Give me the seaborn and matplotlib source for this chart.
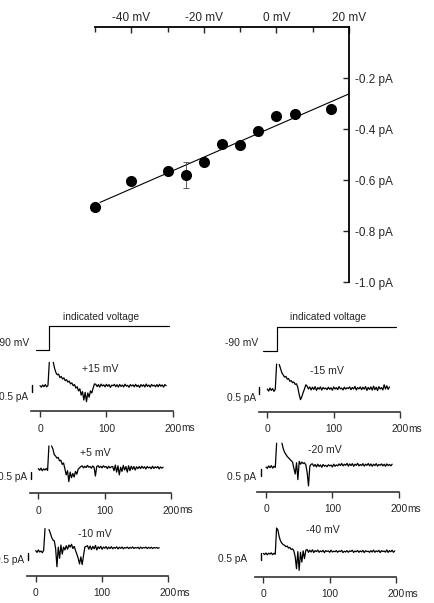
import numpy as np
import pandas as pd
import matplotlib
matplotlib.use("Agg")
import matplotlib.pyplot as plt
from matplotlib.lines import Line2D
import seaborn as sns

# ---------------- data: I-V relation ----------------
voltage_mv = [-50, -40, -30, -25, -20, -15, -10, -5, 0, 5, 15]
current_pa = [-0.705, -0.605, -0.564, -0.579, -0.530, -0.459, -0.463, -0.408, -0.350, -0.340, -0.320]
current_err_pa = [0, 0, 0, 0.05, 0, 0, 0, 0, 0, 0, 0]
fit_voltage_mv = [-48.6, 20.0]
fit_current_pa = [-0.687, -0.262]
x_major_mv = [-40, -20, 0, 20]
x_minor_mv = [-50, -30, -10, 10]
y_ticks_pa = [-0.2, -0.4, -0.6, -0.8, -1.0]

# ---------------- data: stimulus and current traces ----------------
step_time_ms = [-6.3, 13.9, 13.9, 194.0]
step_level = [0, 0, 1, 1]
holding_label = "-90 mV"
step_label = "indicated voltage"
time_ticks_ms = [0, 100, 200]
sample_ms = 2
scale_bar_label = "0.5 pA"
nan = np.nan

trace_p15 = [0.02, -0.08, 0.07, -0.05, 0.10, -0.06, 0.04,
             1.69, nan, nan, 1.69,
             1.25, 0.95, 0.80, 0.85, 0.60, 0.68, 0.50, 0.58, 0.38, 0.45, 0.28, 0.35, 0.15, 0.22, 0.02,
             0.10, -0.15, -0.05, -0.35, -0.20, -0.65, -0.40, -1.00, -0.45, -1.12, -0.50, -0.80, -0.35,
             -0.50, -0.15, 0.15,
             0.12, -0.04, 0.10, -0.08, 0.14, 0.00, 0.08, -0.06, 0.12, -0.02,
             0.10, -0.10, 0.06, 0.02, 0.12, -0.05, 0.09, -0.08, 0.11, -0.03,
             0.07, -0.07, 0.13, -0.01, 0.05, -0.09, 0.10, 0.00, 0.08, -0.06,
             0.12, -0.04, 0.06, -0.10, 0.10, -0.02, 0.09, -0.07, 0.14, -0.03,
             0.07, -0.08, 0.11, 0.00, 0.06, -0.06, 0.10, -0.05, 0.12, -0.02,
             0.08, -0.08, 0.10, 0.02]

trace_p5 = [0.05, -0.07, 0.08, -0.10, 0.03, -0.05, 0.06, -0.08,
            1.67, nan, 1.67,
            1.45, 1.05, 0.95, 0.80, 0.85, 0.60, 0.65, 0.35, 0.45, 0.05, -0.40, -0.10, -0.88, -0.20,
            -0.60, -0.30, -0.55, -0.15, -0.35, 0.00, 0.10, 0.19,
            0.25, 0.10, 0.22, 0.12, 0.28, 0.15, 0.20, 0.08, 0.24, 0.14, -0.48, 0.20, 0.26, 0.12,
            0.22, 0.10, 0.25, 0.15, 0.20, 0.05, 0.22, 0.10, 0.18,
            0.20, -0.10, 0.30, -0.20, 0.25, -0.40, 0.15, -0.15, 0.28, -0.05, 0.20, -0.20, 0.25,
            -0.10, 0.22, 0.00, 0.20, -0.05, 0.18, 0.05,
            0.20, 0.05, 0.22, 0.08, 0.18, 0.02, 0.20, 0.10, 0.16, 0.04, 0.22, 0.06, 0.18, 0.10,
            0.20, 0.03, 0.17, 0.08, 0.15]

trace_m10 = [0.05, -0.08, 0.10, -0.05, 0.02, -0.10, 0.06,
             1.62, nan, nan, 1.55,
             1.30, 1.00, 0.80, 0.75, 0.20, -1.10, 0.30, -0.50, 0.45, -0.20, 0.30, 0.10, 0.40, 0.15,
             0.45, 0.30, 0.50, 0.20, 0.35, 0.05, -0.20, -0.50, -0.90, -0.40, -0.95, -0.30, 0.30, 0.35,
             0.40, 0.15, 0.38, 0.12, 0.35, 0.18, 0.42, 0.10, 0.32, 0.20,
             0.36, 0.14, 0.30, 0.22, 0.34, 0.16, 0.30, 0.20, 0.33, 0.18,
             0.28, 0.22, 0.32, 0.17, 0.29, 0.21, 0.31, 0.18, 0.27, 0.23,
             0.30, 0.19, 0.28, 0.22, 0.31, 0.20, 0.27, 0.23, 0.29, 0.18,
             0.30, 0.21, 0.27, 0.24, 0.30, 0.19, 0.28, 0.22, 0.29, 0.20,
             0.27, 0.23, 0.28, 0.21, 0.26]

trace_m15 = [0.05, -0.10, 0.12, -0.05, 0.08, -0.12, 0.03,
             1.83, nan, 1.80,
             1.50, 1.20, 1.05, 0.90, 0.95, 0.75, 0.80, 0.60, 0.65, 0.50, 0.55, 0.38, 0.42, 0.15,
             -0.35, -0.71, -0.50, -0.20, 0.05, 0.35,
             0.25, 0.05, 0.20, -0.02, 0.18, 0.02, 0.22, -0.05, 0.15, 0.04,
             0.20, -0.03, 0.16, 0.06, 0.12, 0.00, 0.18, 0.03, 0.14, -0.04,
             0.20, 0.05, 0.15, 0.00, 0.22, 0.06, 0.12, -0.02, 0.18, 0.04,
             0.14, 0.08, 0.20, 0.00, 0.16, 0.05, 0.24, -0.02, 0.15, 0.06,
             0.20, 0.00, 0.18, 0.04, 0.22, -0.05, 0.16, 0.02, 0.20, -0.03,
             0.25, 0.00, 0.18, -0.06, 0.22, 0.05, 0.15, -0.02, 0.35, 0.05,
             0.28, 0.02, 0.20]

trace_m20 = [0.00, -0.10, 0.08, -0.05, 0.10, -0.08, 0.05, -0.03,
             1.70, nan, nan, nan, 1.70,
             1.30, 1.05, 0.90, 0.75, 0.65, 0.55, 0.45, 0.35, -0.10, -0.50, 0.30, -0.90, 0.40, 0.20,
             0.35, 0.25, 0.30, 0.15, -0.40, -1.35, 0.05, 0.20,
             0.22, 0.05, 0.18, 0.00, 0.20, 0.04, 0.15, -0.02, 0.18, 0.06,
             0.12, 0.02, 0.16, 0.08, 0.14, 0.00, 0.20, 0.05, 0.15, 0.08,
             0.22, 0.10, 0.25, 0.08, 0.20, 0.12, 0.26, 0.06, 0.22, 0.10,
             0.24, 0.05, 0.20, 0.12, 0.26, 0.08, 0.18, 0.10, 0.24, 0.06,
             0.20, 0.12, 0.25, 0.08, 0.22, 0.05, 0.20, 0.10, 0.24, 0.06,
             0.18, 0.12, 0.22, 0.08, 0.20, 0.05, 0.22, 0.10, 0.18, 0.08,
             0.20]

trace_m40 = [0.02, -0.06, 0.05, -0.08, 0.04, -0.03, 0.06, -0.07, 0.03, -0.04,
             1.83,
             1.70, 1.20, 0.90, 0.75, 0.65, 0.60, 0.50, 0.55, 0.40, 0.45, 0.30, 0.35, 0.20, -0.20,
             -1.07, 0.15, -1.19, 0.10, -0.60, 0.20, -0.35, 0.24,
             0.30, 0.10, 0.25, 0.12, 0.28, 0.08, 0.22, 0.15, 0.26, 0.10,
             0.20, 0.14, 0.24, 0.08, 0.22, 0.16, 0.20, 0.10, 0.25, 0.12,
             0.18, 0.14, 0.22, 0.10, 0.20, 0.15, 0.24, 0.08, 0.18, 0.12,
             0.22, 0.10, 0.20, 0.16, 0.25, 0.09, 0.19, 0.14, 0.23, 0.10,
             0.20, 0.13, 0.24, 0.08, 0.21, 0.15, 0.18, 0.10, 0.22, 0.12,
             0.26, 0.10, 0.20, 0.14, 0.24, 0.08, 0.22, 0.15, 0.19, 0.11,
             0.27, 0.09, 0.22, 0.14, 0.25, 0.10, 0.20]

trace_labels = ["+15 mV", "+5 mV", "-10 mV", "-15 mV", "-20 mV", "-40 mV"]

# ---------------- figure setup ----------------
sns.set_style("ticks")
plt.rcParams["font.family"] = ["Liberation Sans", "DejaVu Sans"]

W, H, DPI = 435, 603, 100
fig = plt.figure(figsize=(W / DPI, H / DPI), dpi=DPI)
fig.patch.set_facecolor("white")


def box(left, top, right, bottom):
    return [left / W, 1 - bottom / H, (right - left) / W, (bottom - top) / H]


def ftext(x, y, s, **kw):
    fig.text(x / W, 1 - y / H, s, **kw)


# ---------------- I-V plot ----------------
ax = fig.add_axes(box(95, 27, 349, 282.3))
sns.lineplot(x=fit_voltage_mv, y=fit_current_pa, color="black", lw=0.8, ax=ax, zorder=2)
err_idx = [k for k, e in enumerate(current_err_pa) if e > 0]
ax.errorbar([voltage_mv[k] for k in err_idx], [current_pa[k] for k in err_idx],
            yerr=[current_err_pa[k] for k in err_idx], fmt="none", ecolor="#444444",
            elinewidth=0.6, capsize=2.5, capthick=0.6, zorder=2)
sc = sns.scatterplot(x=voltage_mv, y=current_pa, s=64, color="black", edgecolor="black",
                     linewidth=0, ax=ax, zorder=3)
for coll in ax.collections:
    coll.set_clip_on(False)
ax.set_xlim(-50, 20)
ax.set_ylim(-1.0, 0.0)
ax.set(xlabel="", ylabel="")
ax.set_facecolor("none")
for side in ["left", "bottom"]:
    ax.spines[side].set_visible(False)
for side in ["top", "right"]:
    ax.spines[side].set_visible(True)
    ax.spines[side].set_linewidth(1.3)
    ax.spines[side].set_color("black")
ax.xaxis.tick_top()
ax.yaxis.tick_right()
ax.set_xticks(x_major_mv)
ax.set_xticklabels([f"{v} mV" for v in x_major_mv])
ax.set_xticks(x_minor_mv, minor=True)
ax.set_yticks(y_ticks_pa)
ax.set_yticklabels([f"{v:.1f} pA" for v in y_ticks_pa])
ax.tick_params(axis="x", which="major", direction="in", length=4.5, width=1.0,
               labelsize=8.5, pad=2.5, top=True, bottom=False)
ax.tick_params(axis="x", which="minor", direction="in", length=3.5, width=1.0,
               top=True, bottom=False)
ax.tick_params(axis="y", which="major", direction="in", length=4.5, width=1.0,
               labelsize=8.5, pad=4.5, right=True, left=False)

# ---------------- stimulus protocol ----------------
PX_MS = 0.664
PX_PA = 14.0
T_LEFT, T_RIGHT = -13, 200

for t0x, base_y, top_y, hold_xy, lab_xy in [
        (40.0, 350.0, 326.0, (29.3, 342.7), (100.7, 316.7)),
        (267.3, 350.7, 326.7, (258.0, 343.3), (328.3, 317.3))]:
    left = t0x + T_LEFT * PX_MS
    right = t0x + T_RIGHT * PX_MS
    sax = fig.add_axes(box(left, top_y - 10, right, base_y + 6))
    sns.lineplot(x=step_time_ms, y=step_level, sort=False, estimator=None,
                 color="black", lw=0.85, ax=sax)
    sax.set_xlim(T_LEFT, T_RIGHT)
    per = base_y - top_y
    sax.set_ylim(-6 / per, 1 + 10 / per)
    sax.axis("off")
    ftext(hold_xy[0], hold_xy[1], holding_label, ha="right", va="center", fontsize=7.4)
    ftext(lab_xy[0], lab_xy[1], step_label, ha="center", va="center", fontsize=7.3)

# ---------------- current traces ----------------
traces = [trace_p15, trace_p5, trace_m10, trace_m15, trace_m20, trace_m40]
layout = [
    # t0x, spine_y, base_y, label_xy, bar_t, bar_top, bar_bottom, bar_text_xy
    (40.0, 411.0, 386.0, (100.0, 369.3), -12, 0.05, -0.45, (28.3, 397.0)),
    (38.3, 493.3, 469.3, (95.0, 453.3), -11, -0.17, -0.67, (27.0, 477.0)),
    (35.7, 576.0, 551.3, (95.0, 534.3), -12, -0.10, -0.60, (24.3, 560.0)),
    (267.3, 411.7, 389.7, (326.7, 370.7), -12, 0.20, -0.30, (256.0, 398.0)),
    (266.0, 491.7, 467.0, (325.0, 450.0), -8, -0.15, -0.65, (256.0, 477.5)),
    (263.3, 576.7, 553.7, (323.3, 530.0), -4, 0.05, -0.45, (246.7, 559.0)),
]

for values, label, (t0x, spine_y, base_y, lab_xy, bar_t, bar_top, bar_bot, bt_xy) in zip(
        traces, trace_labels, layout):
    left = t0x + T_LEFT * PX_MS
    right = t0x + T_RIGHT * PX_MS
    height = 62
    tax = fig.add_axes(box(left, spine_y - height, right, spine_y))
    v = np.asarray(values, dtype=float)
    t = np.arange(len(v)) * sample_ms
    seg = np.cumsum(np.isnan(v))
    df = pd.DataFrame({"t": t, "i": v, "seg": seg}).dropna()
    sns.lineplot(data=df, x="t", y="i", units="seg", estimator=None, sort=False,
                 color="black", lw=0.9, ax=tax)
    ybot = -(spine_y - base_y) / PX_PA
    tax.set_xlim(T_LEFT, T_RIGHT)
    tax.set_ylim(ybot, ybot + height / PX_PA)
    tax.set(xlabel="", ylabel="")
    tax.set_facecolor("none")
    for side in ["left", "top", "right"]:
        tax.spines[side].set_visible(False)
    tax.spines["bottom"].set_linewidth(1.2)
    tax.spines["bottom"].set_color("#333333")
    tax.set_yticks([])
    tax.set_xticks(time_ticks_ms)
    tax.set_xticklabels([str(x) for x in time_ticks_ms])
    tax.tick_params(axis="x", direction="out", length=4.5, width=1.0, color="#333333",
                    labelsize=7.4, pad=4.5, bottom=True, top=False)
    # scale bar (0.5 pA)
    tax.add_line(Line2D([bar_t, bar_t], [bar_bot, bar_top], color="black", lw=1.0,
                        clip_on=False))
    ftext(bt_xy[0], bt_xy[1], scale_bar_label, ha="right", va="center", fontsize=7.3)
    ftext(lab_xy[0], lab_xy[1], label, ha="center", va="center", fontsize=7.6)
    ftext(t0x + 200 * PX_MS + 8, spine_y + 17, "ms", ha="left", va="center", fontsize=7.3)

fig.savefig("out.png", dpi=DPI, facecolor="white")
